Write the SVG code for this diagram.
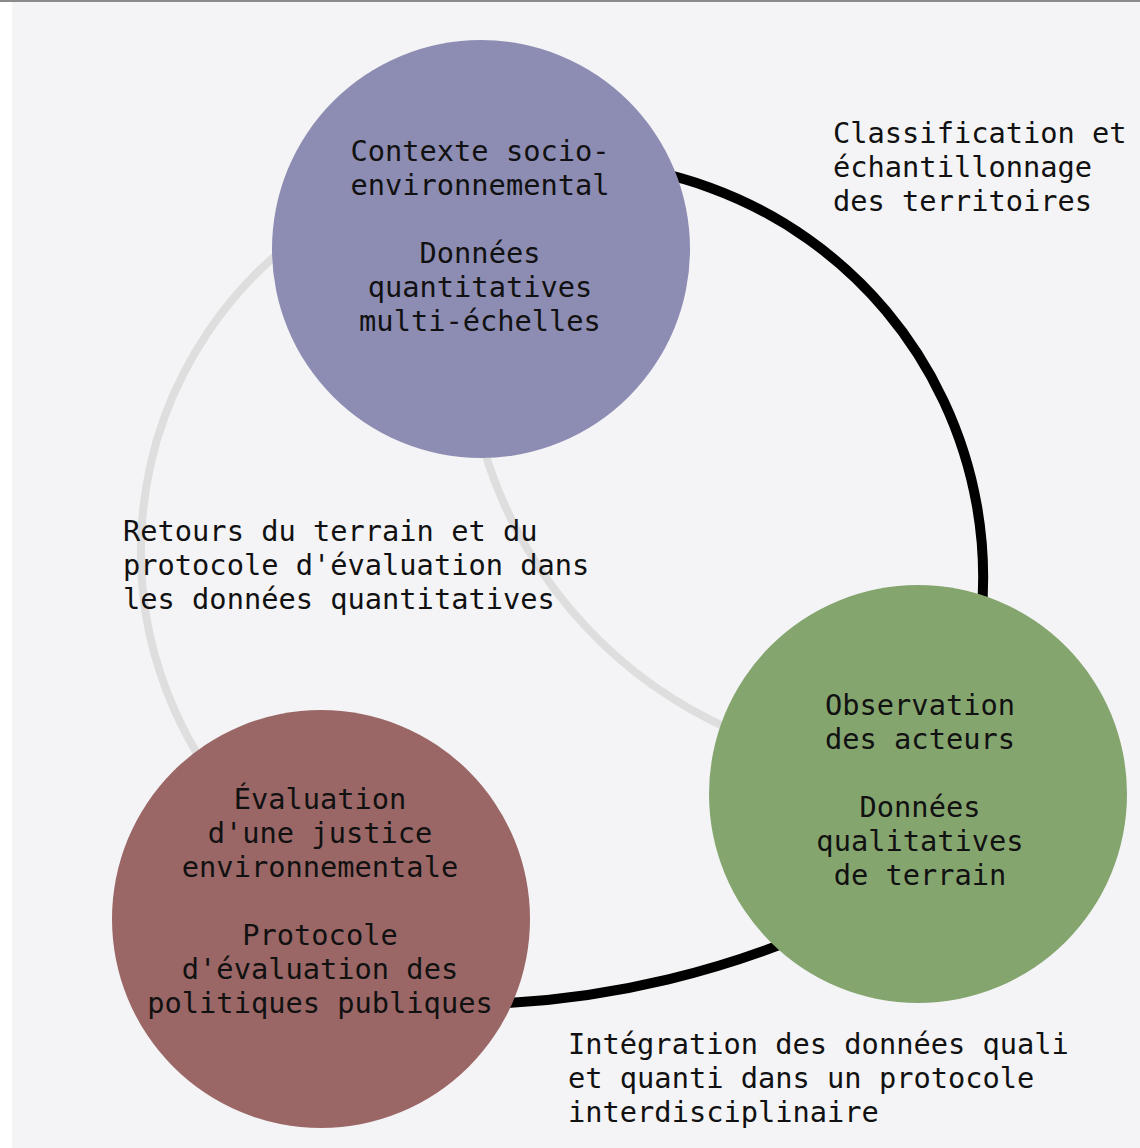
<svg xmlns="http://www.w3.org/2000/svg" width="1140" height="1148" viewBox="0 0 1140 1148">
<style>
  text { font-family: "DejaVu Sans Mono", "Liberation Mono", monospace; font-size: 28.7px; fill: #111; }
  .c { text-anchor: middle; }
  .arc { fill: none; }
  .strong { stroke: #000; stroke-width: 10; }
  .weak { stroke: #dedede; stroke-width: 8; }
</style>
<rect x="0" y="0" width="1140" height="1148" fill="#ffffff"/>
<rect x="12" y="0" width="1128" height="1148" fill="#f4f4f6"/>
<rect x="0" y="0" width="1140" height="2" fill="#8a8a8a"/>
<g id="connectors">
  <path class="arc strong" d="M 496 169 A 415 415 0 0 1 958 720"/>
  <path class="arc weak" d="M 335 213 A 392 392 0 0 0 279 850"/>
  <path class="arc weak" d="M 467 283 A 446 446 0 0 0 872 766"/>
  <path class="arc strong" d="M 379 1001 A 902 902 0 0 0 936 867"/>
</g>
<g id="node-contexte">
  <circle cx="481" cy="249" r="209" fill="#8d8cb3"/>
  <text class="c" x="480" y="161">Contexte socio-</text>
  <text class="c" x="480" y="195">environnemental</text>
  <text class="c" x="480" y="263">Données</text>
  <text class="c" x="480" y="297">quantitatives</text>
  <text class="c" x="480" y="331">multi-échelles</text>
</g>
<g id="node-observation">
  <circle cx="918" cy="794" r="209" fill="#85a56f"/>
  <text class="c" x="920" y="715">Observation</text>
  <text class="c" x="920" y="749">des acteurs</text>
  <text class="c" x="920" y="817">Données</text>
  <text class="c" x="920" y="851">qualitatives</text>
  <text class="c" x="920" y="885">de terrain</text>
</g>
<g id="node-evaluation">
  <circle cx="321" cy="919" r="209" fill="#9a6766"/>
  <text class="c" x="320" y="809">Évaluation</text>
  <text class="c" x="320" y="843">d'une justice</text>
  <text class="c" x="320" y="877">environnementale</text>
  <text class="c" x="320" y="945">Protocole</text>
  <text class="c" x="320" y="979">d'évaluation des</text>
  <text class="c" x="320" y="1013">politiques publiques</text>
</g>
<g id="labels">
  <text x="833" y="143">Classification et</text>
  <text x="833" y="177">échantillonnage</text>
  <text x="833" y="211">des territoires</text>
  <text x="123" y="541">Retours du terrain et du</text>
  <text x="123" y="575">protocole d'évaluation dans</text>
  <text x="123" y="609">les données quantitatives</text>
  <text x="568" y="1054">Intégration des données quali</text>
  <text x="568" y="1088">et quanti dans un protocole</text>
  <text x="568" y="1122">interdisciplinaire</text>
</g>
</svg>
